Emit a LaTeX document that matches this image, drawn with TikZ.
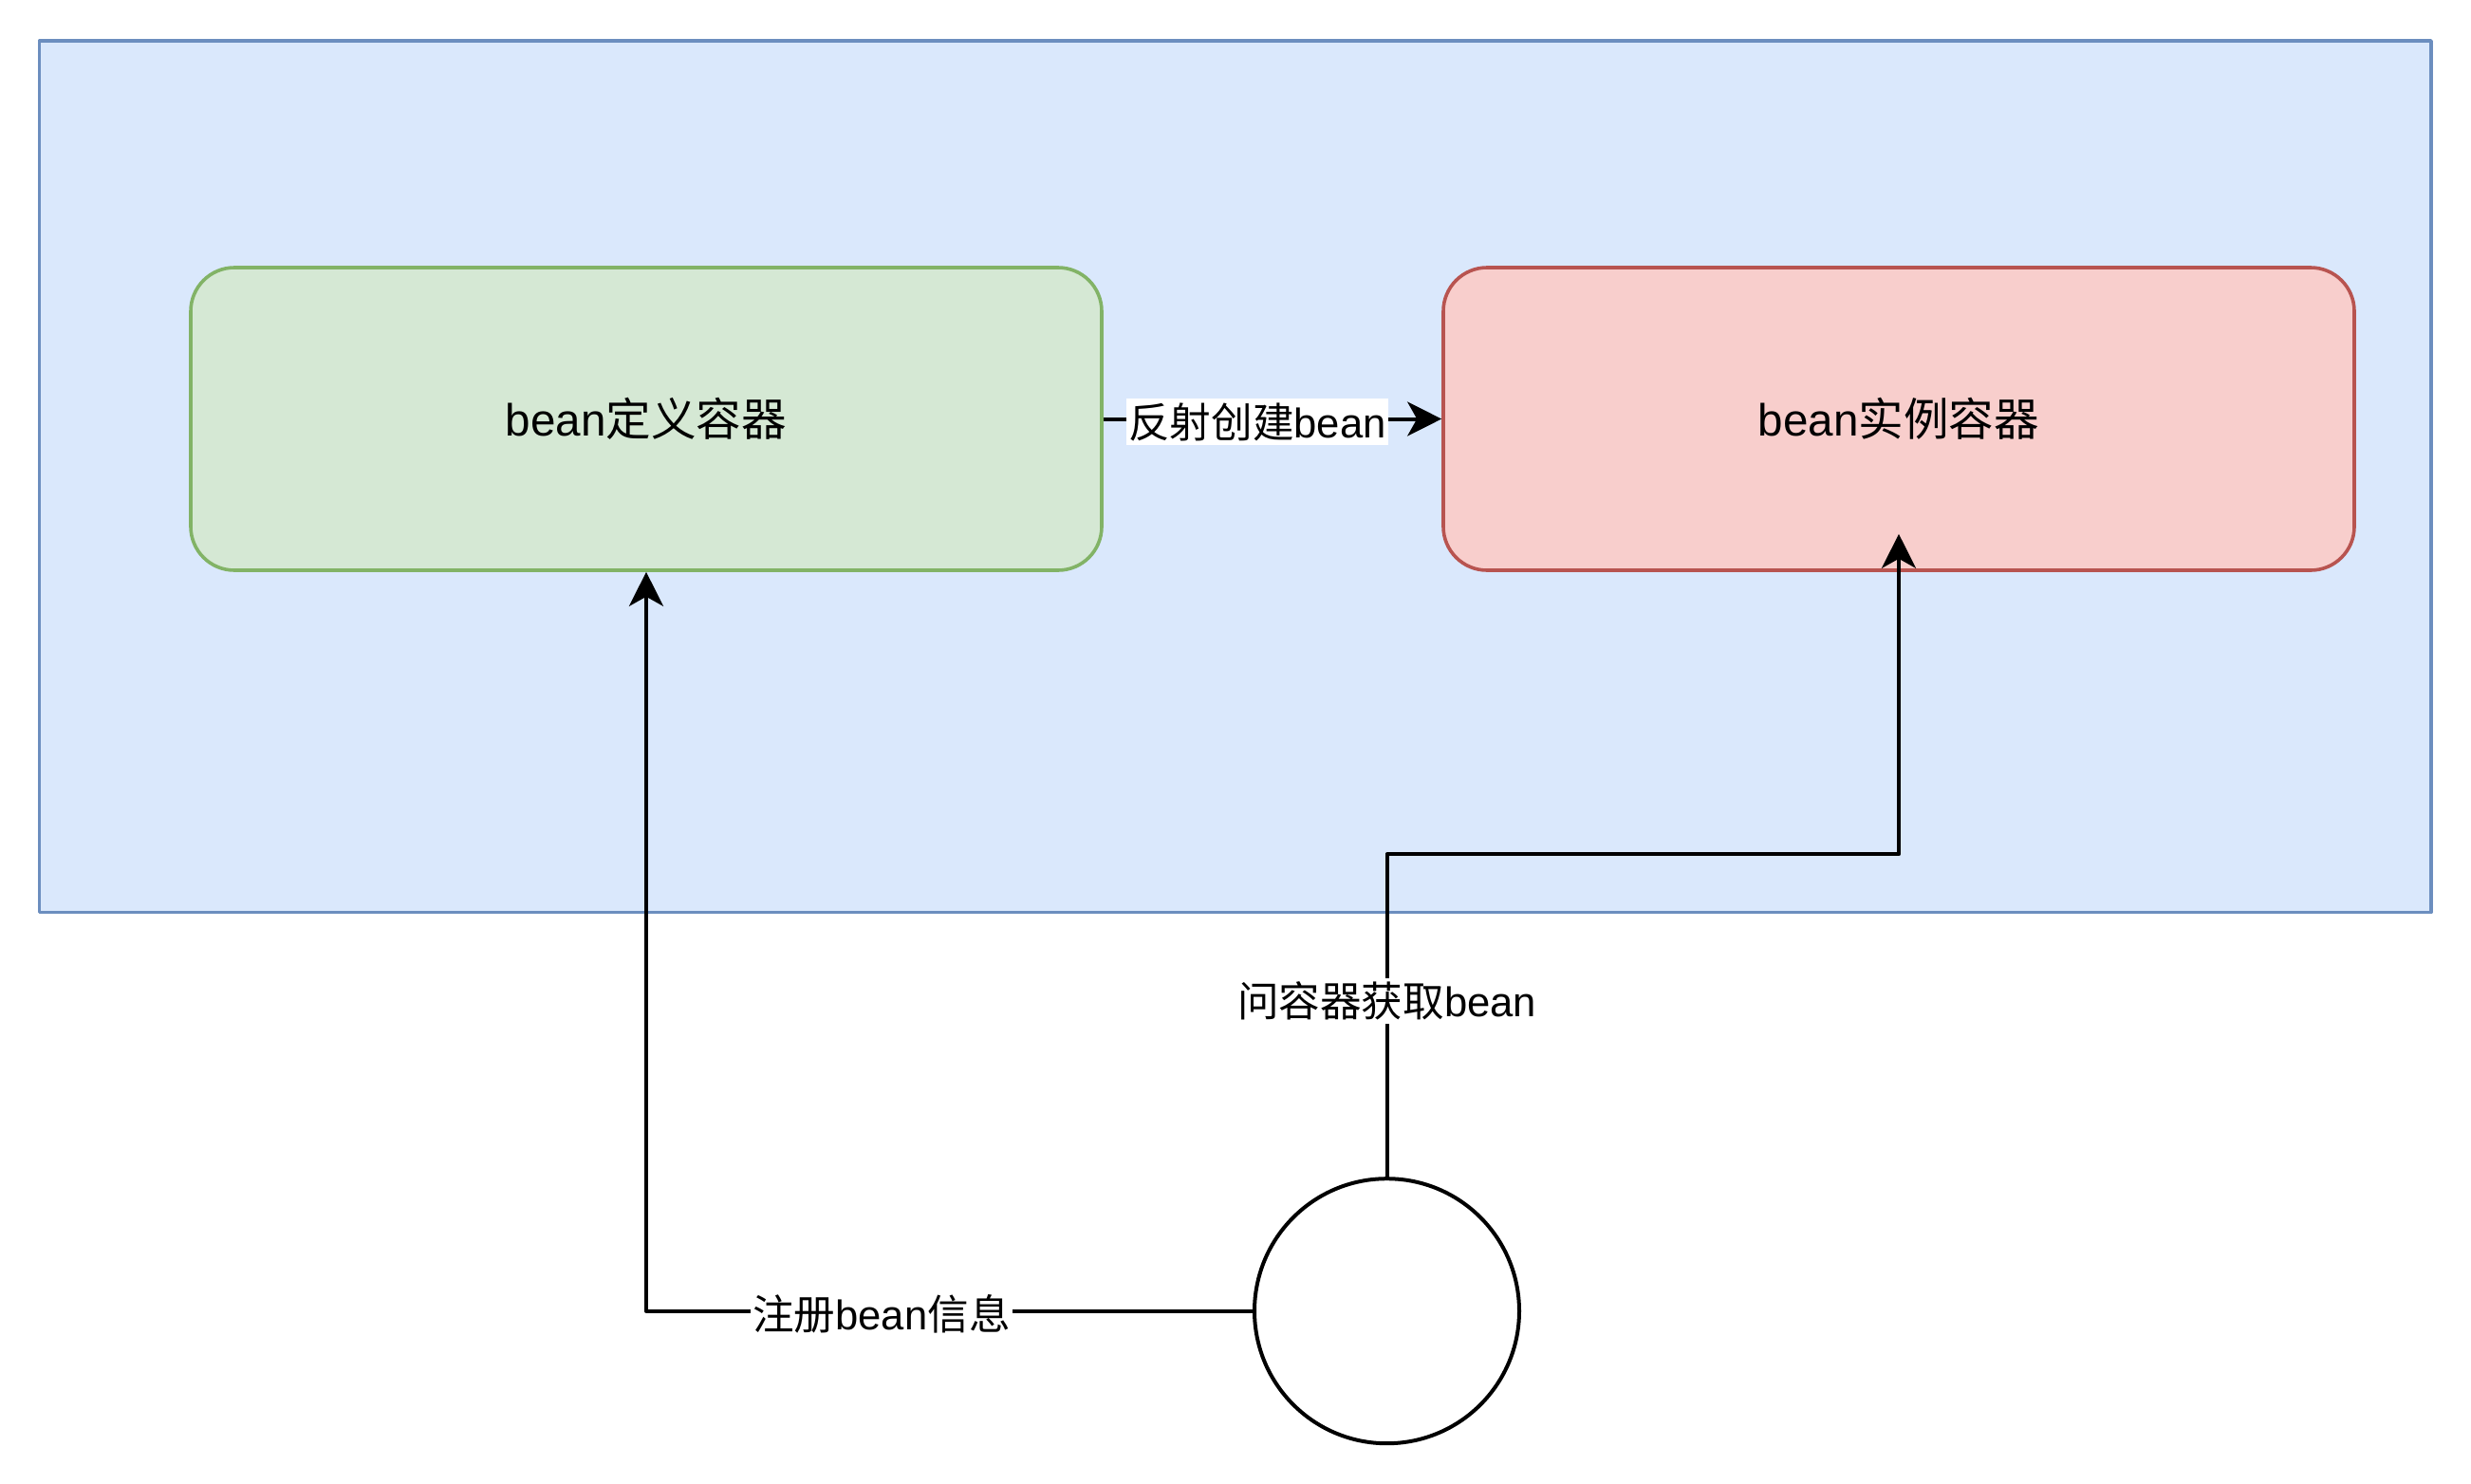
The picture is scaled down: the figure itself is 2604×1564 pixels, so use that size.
\documentclass[tikz,border=0pt]{standalone}
\usepackage{fontspec}
\setmainfont{Liberation Sans}
\newfontfamily\cjk{Noto Sans CJK SC}
\usetikzlibrary{arrows.meta}

\definecolor{ctxfill}{HTML}{DAE8FC}
\definecolor{ctxline}{HTML}{6C8EBF}
\definecolor{deffill}{HTML}{D5E8D4}
\definecolor{defline}{HTML}{82B366}
\definecolor{insfill}{HTML}{F8CECC}
\definecolor{insline}{HTML}{B85450}

\tikzset{
	box/.style={draw, rounded corners=23pt, line width=1.8pt, minimum width=480pt, minimum height=159.5pt,
		font=\fontsize{23.8pt}{28pt}\selectfont},
	lbl/.style={fill=white, inner xsep=1pt, inner ysep=2pt, yshift=-1.5pt, font=\fontsize{21.8pt}{26pt}\selectfont},
	arr/.style={-{Stealth[length=18pt,width=18pt,inset=5pt]}, line width=2pt},
}

\begin{document}
\begin{tikzpicture}[x=0.5pt,y=-0.5pt,line join=round]
	\useasboundingbox (0,0) rectangle (2604,1564);
	
	% container
	\node[draw=ctxline, fill=ctxfill, line width=1.8pt, minimum width=1260.25pt, minimum height=459.25pt] (ctx) at (1301.75,502.25) {};
	\node[box, draw=defline, fill=deffill] (def) at (681,441.5) {bean{\cjk 定义容器}};
	\node[box, draw=insline, fill=insfill] (inst) at (2001,441.5) {bean{\cjk 实例容器}};
	\node[draw, circle, line width=2pt, minimum size=139.5pt, inner sep=0pt] (client) at (1461.5,1381.7) {};
	
	% connectors
	\draw[arr] (def.east) -- node[lbl, pos=0.455] {{\cjk 反射创建}bean} (inst.west);
	\draw[arr] (client.west) -| node[lbl, pos=0.306] {{\cjk 注册}bean{\cjk 信息}} (def.south);
	\draw[arr] (client.north) -- node[lbl, pos=0.553] {{\cjk 问容器获取}bean} ++(0,-340) -| ([yshift=20pt]inst.south);
\end{tikzpicture}
\end{document}
